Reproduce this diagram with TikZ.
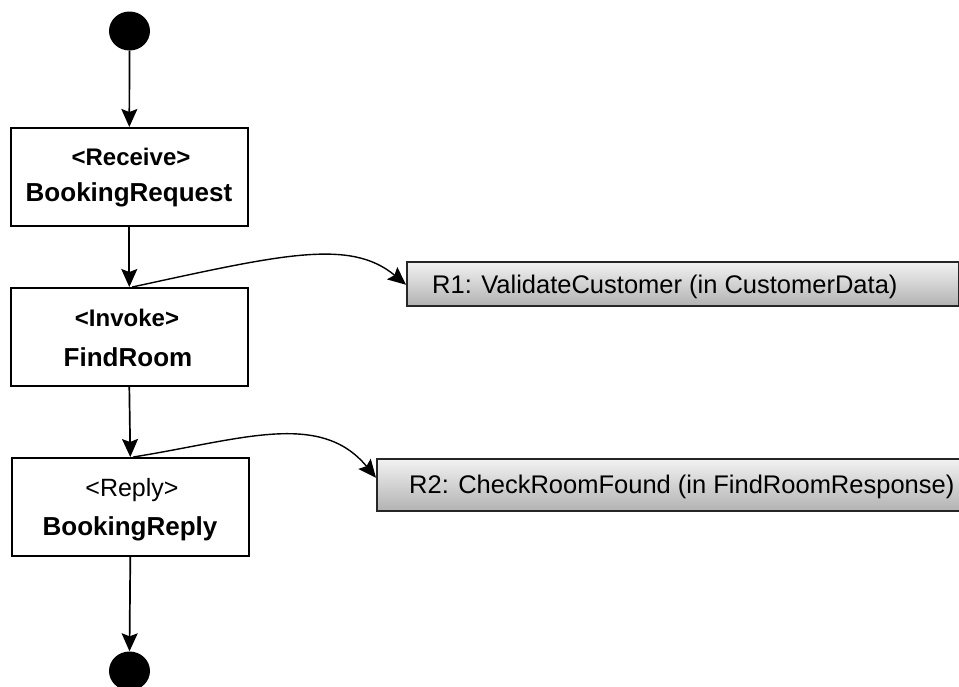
\documentclass[tikz,border=0pt]{standalone}
\usepackage{fontspec}
\setmainfont{Liberation Sans}
\usetikzlibrary{arrows.meta,shapes.geometric}

\tikzset{
  headtip/.tip={Stealth[length=18pt, width=16pt, inset=3pt]},
  flow/.style={line width=1.7pt, -headtip},
  actbox/.style={draw, line width=1.6pt, fill=white, minimum width=237pt, minimum height=98pt, inner sep=0pt, anchor=north west},
  rulebox/.style={draw=black!85, line width=1.5pt, top color=gray!10, bottom color=gray!60, inner sep=0pt, anchor=north west},
  dot/.style={ellipse, fill=black, minimum width=41pt, minimum height=39pt, inner sep=0pt},
  stereo/.style={anchor=base, font=\fontsize{24}{28}\selectfont\bfseries, inner sep=0pt},
  stereoreg/.style={anchor=base, font=\fontsize{25}{28}\selectfont, inner sep=0pt},
  actname/.style={anchor=base, font=\fontsize{26}{30}\selectfont\bfseries, inner sep=0pt},
  ruletext/.style={anchor=base west, font=\fontsize{25.5}{30}\selectfont, inner sep=0pt}
}

\begin{document}
\begin{tikzpicture}[x=1pt, y=-1pt]
  \clip (0,0) rectangle (959,686);
  \fill[white] (0,0) rectangle (959,686);

  % start and end markers
  \node[dot] (start) at (129.5,31) {};
  \node[dot] (stop) at (129.5,671) {};

  % activity boxes
  \node[actbox] (b1) at (10,127) {};
  \node[actbox] (b2) at (10,287) {};
  \node[actbox] (b3) at (11,457) {};

  \node[stereo] (b1s) at (131,165.5) {<Receive>};
  \node[actname] (b1n) at (129,201.5) {BookingRequest};
  \node[stereo] (b2s) at (127,326.5) {<Invoke>};
  \node[actname] (b2n) at (128,366) {FindRoom};
  \node[stereoreg] (b3s) at (132,496.5) {<Reply>};
  \node[actname] (b3n) at (130,535) {BookingReply};

  % rule boxes
  \node[rulebox, minimum width=552pt, minimum height=44pt] (r1) at (406,261) {};
  \node[ruletext] (r1t) at (432,293) {R1: ValidateCustomer (in CustomerData)};
  \node[rulebox, minimum width=600pt, minimum height=52pt] (r2) at (376,458) {};
  \node[ruletext] (r2t) at (409,493) {R2: CheckRoomFound (in FindRoomResponse)};

  % control flow
  \draw[flow] (start.south) -- (b1.north);
  \draw[flow] (b1.south) -- (b2.north);
  \draw[flow] (b2.south) -- (b3.north);
  \draw[flow] (b3.south) -- (stop.north);

  % rule attachments
  \draw[flow, line width=1.4pt] ([xshift=3pt]b2.north) .. controls (280,255) and (350,238) .. ([yshift=-1pt]r1.west);
  \draw[flow, line width=1.4pt] ([xshift=3pt]b3.north) .. controls (240,440) and (320,410) .. ([yshift=7pt]r2.west);
\end{tikzpicture}
\end{document}
